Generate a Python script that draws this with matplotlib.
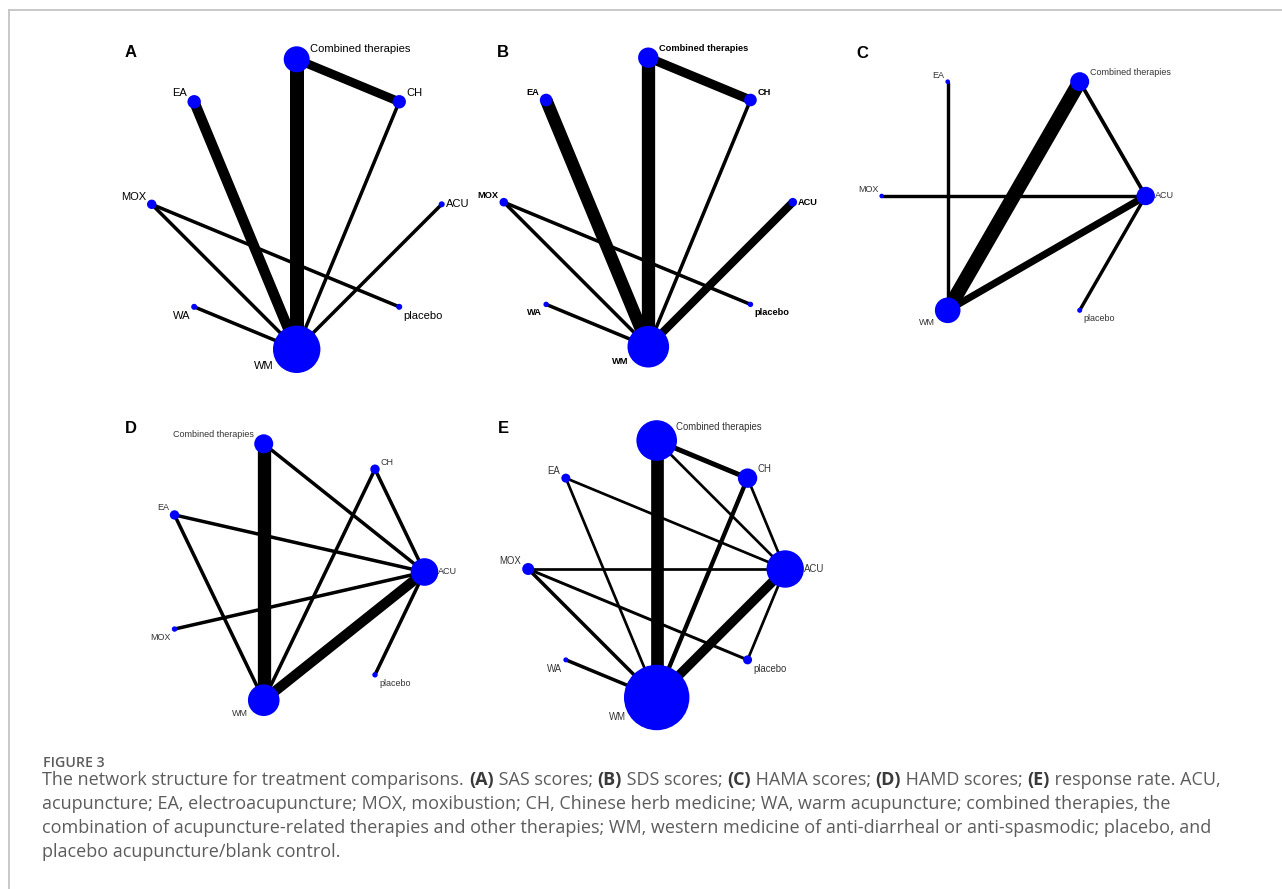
import numpy as np
import matplotlib
matplotlib.use("Agg")
import matplotlib.pyplot as plt
from matplotlib.patches import Circle

# treatments in layout order (start at 3 o'clock, go anticlockwise)
treatments = ["ACU", "CH", "Combined therapies", "EA", "MOX", "WA", "WM", "placebo"]

# node size (relative) per panel, None = treatment not in that network
sizes_A = [3.0, 6.7, 13.0, 6.7, 4.7, 3.0, 23.7, 3.0]
sizes_B = [4.3, 6.3, 10.2, 6.3, 4.3, 2.7, 20.8, 2.7]
sizes_C = [9.2, None, 9.5, 2.3, 2.3, None, 12.8, 2.5]
sizes_D = [13.8, 4.7, 9.5, 4.7, 2.7, None, 15.8, 2.7]
sizes_E = [18.7, 9.7, 20.3, 4.5, 6.0, 2.5, 32.7, 4.5]

# direct comparisons: (treatment 1, treatment 2, edge weight ~ number of studies)
edges_A = [("Combined therapies", "WM", 4.0), ("Combined therapies", "CH", 2.5),
           ("EA", "WM", 3.0), ("CH", "WM", 1.0), ("ACU", "WM", 1.0),
           ("MOX", "WM", 1.0), ("MOX", "placebo", 1.0), ("WA", "WM", 1.0)]
edges_B = [("Combined therapies", "WM", 3.8), ("Combined therapies", "CH", 2.6),
           ("EA", "WM", 3.6), ("ACU", "WM", 2.3), ("CH", "WM", 1.0),
           ("MOX", "WM", 1.0), ("MOX", "placebo", 1.0), ("WA", "WM", 1.0)]
edges_C = [("Combined therapies", "WM", 4.2), ("WM", "ACU", 2.1), ("EA", "WM", 1.0),
           ("MOX", "ACU", 1.0), ("Combined therapies", "ACU", 1.1), ("ACU", "placebo", 1.0)]
edges_D = [("Combined therapies", "WM", 3.8), ("WM", "ACU", 2.9),
           ("Combined therapies", "ACU", 1.0), ("CH", "WM", 1.0), ("CH", "ACU", 1.0),
           ("EA", "ACU", 1.0), ("EA", "WM", 1.0), ("MOX", "ACU", 1.0), ("ACU", "placebo", 1.0)]
edges_E = [("Combined therapies", "WM", 4.7), ("ACU", "WM", 3.5),
           ("Combined therapies", "CH", 1.85), ("CH", "WM", 1.6), ("MOX", "WM", 1.3),
           ("WA", "WM", 1.3), ("MOX", "placebo", 1.1), ("Combined therapies", "ACU", 1.0),
           ("CH", "ACU", 1.0), ("EA", "ACU", 1.0), ("EA", "WM", 1.0),
           ("MOX", "ACU", 1.0), ("ACU", "placebo", 1.0)]

panel_letters = ["A", "B", "C", "D", "E"]

caption_title = "FIGURE 3"
caption_line1 = [("The network structure for treatment comparisons. ", False), ("(A)", True),
                 (" SAS scores; ", False), ("(B)", True), (" SDS scores; ", False), ("(C)", True),
                 (" HAMA scores; ", False), ("(D)", True), (" HAMD scores; ", False), ("(E)", True),
                 (" response rate. ACU,", False)]
caption_rest = ["acupuncture; EA, electroacupuncture; MOX, moxibustion; CH, Chinese herb medicine; WA, warm acupuncture; combined therapies, the",
                "combination of acupuncture-related therapies and other therapies; WM, western medicine of anti-diarrheal or anti-spasmodic; placebo, and",
                "placebo acupuncture/blank control."]

W, H = 1282, 889
fig = plt.figure(figsize=(W / 100, H / 100), dpi=100)
ax = fig.add_axes([0, 0, 1, 1])
ax.set_xlim(0, W)
ax.set_ylim(H, 0)
ax.axis("off")

# frame lines
ax.plot([9, W], [10, 10], color="#c4c4c4", lw=1.3)
ax.plot([9, 9], [10, H], color="#c4c4c4", lw=1.3)

# panel layout: centre, radius (px), edge px per unit, label font
panels = [
    dict(sizes=sizes_A, edges=edges_A, c=(296.7, 204.3), R=145, unit=3.5, fs=8.0, fw="normal", col="black", letter=(131, 52.5)),
    dict(sizes=sizes_B, edges=edges_B, c=(648.3, 202.2), R=144.5, unit=3.5, fs=6.7, fw="bold", col="black", letter=(503.3, 52.5)),
    dict(sizes=sizes_C, edges=edges_C, c=(1013.7, 196), R=132, unit=3.4, fs=6.5, fw="normal", col="#333333", letter=(862.5, 53.8)),
    dict(sizes=sizes_D, edges=edges_D, c=(293, 572), R=131.5, unit=3.5, fs=6.5, fw="normal", col="#333333", letter=(131, 428.7)),
    dict(sizes=sizes_E, edges=edges_E, c=(656.7, 569), R=128.5, unit=2.7, fs=6.9, fw="normal", col="#333333", letter=(503.3, 428.4)),
]

px = 0.72  # points per pixel at 100 dpi


def side(v, tie):
    return tie if abs(v) < 1e-9 else np.sign(v)


for letter, p in zip(panel_letters, panels):
    present = [t for t, s in zip(treatments, p["sizes"]) if s is not None]
    size_of = dict(zip(treatments, p["sizes"]))
    n = len(present)
    cx, cy = p["c"]
    pos, ang = {}, {}
    for i, t in enumerate(present):
        th = 2 * np.pi * i / n
        ang[t] = th
        pos[t] = (cx + p["R"] * np.cos(th), cy - p["R"] * np.sin(th))

    for a, b, w in p["edges"]:
        ax.plot([pos[a][0], pos[b][0]], [pos[a][1], pos[b][1]], color="black",
                lw=w * p["unit"] * px, solid_capstyle="butt", zorder=1)

    for t in present:
        x, y = pos[t]
        r = size_of[t]
        ax.add_patch(Circle((x, y), r, facecolor="#0000ff", edgecolor="none", zorder=3))
        c, s = np.cos(ang[t]), np.sin(ang[t])
        sx = side(c, 1 if s > 0 else -1)
        sy = side(s, 0 if c > 0 else 1)
        dx = sx * (0.9 * r + 1.5)
        dy = sy * (0.35 * r + 3)
        ha = "left" if sx > 0 else "right"
        va = "baseline" if sy > 0 else ("top" if sy < 0 else "center")
        ax.text(x + dx, y - dy, t, ha=ha, va=va, fontsize=p["fs"], fontweight=p["fw"],
                color=p["col"], family="Liberation Sans", zorder=4)

    ax.text(p["letter"][0], p["letter"][1], letter, ha="center", va="center",
            fontsize=12, fontweight="bold", family="Liberation Sans")

# caption
cap_font = "Open Sans"
cap_col = "#5c5c5c"
ax.text(43, 767.3, caption_title, fontsize=10.2, fontweight="semibold", color=cap_col,
        family=cap_font, va="baseline")

renderer = fig.canvas.get_renderer()


def width_of(s, size, bold):
    wt = "bold" if bold else "normal"
    t1 = ax.text(0, 0, s + "|", fontsize=size, fontweight=wt, family=cap_font)
    t2 = ax.text(0, 0, "|", fontsize=size, fontweight=wt, family=cap_font)
    w = t1.get_window_extent(renderer).width - t2.get_window_extent(renderer).width
    t1.remove()
    t2.remove()
    return w


base = 12.0
total = sum(width_of(s, base, b) for s, b in caption_line1)
cap_size = base * 1173 / total

x = 42.5
for s, b in caption_line1:
    ax.text(x, 785, s, fontsize=cap_size, fontweight="bold" if b else "normal",
            color="#3a3a3a" if b else cap_col, family=cap_font, va="baseline")
    x += width_of(s, cap_size, b)

for k, line in enumerate(caption_rest):
    ax.text(42.5, 809 + 23.8 * k, line, fontsize=cap_size, color=cap_col,
            family=cap_font, va="baseline")

fig.savefig("out.png", dpi=100)
